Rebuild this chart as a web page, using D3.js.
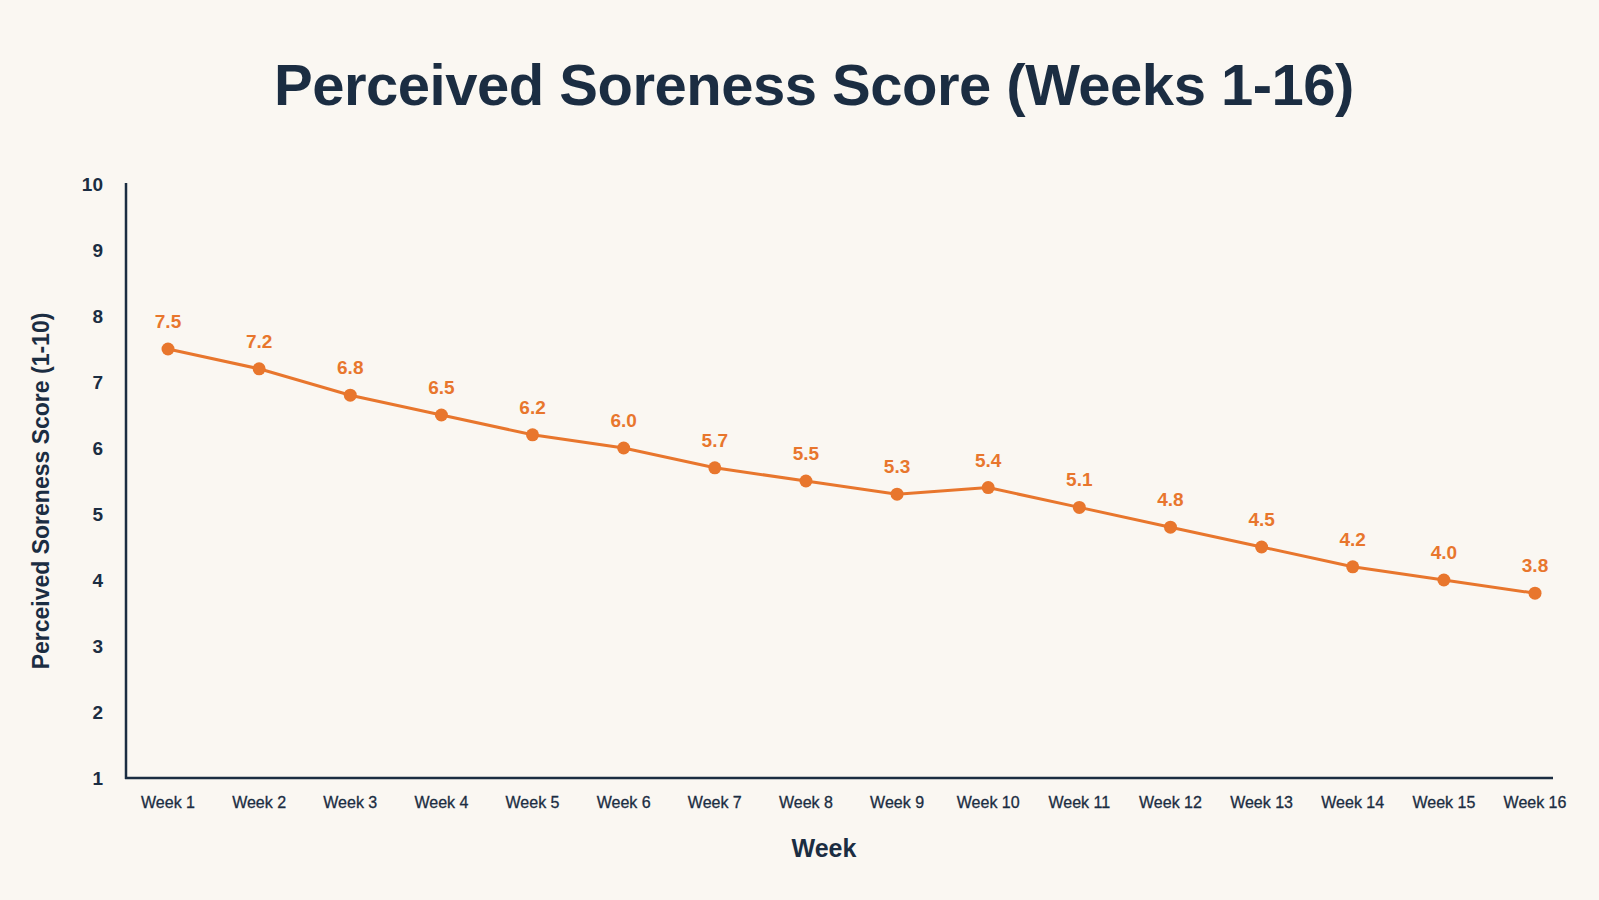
<!DOCTYPE html>
<html>
<head>
<meta charset="utf-8">
<script src="https://cdn.jsdelivr.net/npm/d3@7"></script>
<style>
  html, body { margin: 0; padding: 0; background: #faf7f2; }
  svg { display: block; }
</style>
</head>
<body>
<svg width="1599" height="900"></svg>
<script>
// chart data
var weeks = ["Week 1","Week 2","Week 3","Week 4","Week 5","Week 6","Week 7","Week 8",
             "Week 9","Week 10","Week 11","Week 12","Week 13","Week 14","Week 15","Week 16"];
var soreness = [7.5, 7.2, 6.8, 6.5, 6.2, 6.0, 5.7, 5.5, 5.3, 5.4, 5.1, 4.8, 4.5, 4.2, 4.0, 3.8];
var yTicks = [1, 2, 3, 4, 5, 6, 7, 8, 9, 10];

var svg = d3.select("svg"),
    ink = "#1b2d42",
    orange = "#e8762d",
    font = "'Liberation Sans', Arial, sans-serif";

var x = d3.scalePoint()
    .domain(weeks)
    .range([168, 1535]);
var y = d3.scaleLinear()
    .domain([1, 10])
    .range([778, 184]);

// title
svg.append("text")
    .attr("x", 814)
    .attr("y", 105)
    .attr("text-anchor", "middle")
    .attr("font-family", font)
    .attr("font-weight", "bold")
    .attr("font-size", 58)
    .attr("letter-spacing", -0.5)
    .attr("fill", ink)
    .text("Perceived Soreness Score (Weeks 1-16)");

// axes lines
svg.append("line")
    .attr("x1", 126).attr("x2", 126)
    .attr("y1", 183).attr("y2", 779)
    .attr("stroke", ink).attr("stroke-width", 2.5);
svg.append("line")
    .attr("x1", 125).attr("x2", 1553)
    .attr("y1", 778).attr("y2", 778)
    .attr("stroke", ink).attr("stroke-width", 2.5);

// y tick labels
svg.append("g")
    .selectAll("text")
    .data(yTicks)
    .enter().append("text")
      .attr("x", 103)
      .attr("y", function(d) { return y(d); })
      .attr("dy", "0.35em")
      .attr("text-anchor", "end")
      .attr("font-family", font)
      .attr("font-weight", "bold")
      .attr("font-size", 19)
      .attr("fill", ink)
      .text(function(d) { return d; });

// x tick labels
svg.append("g")
    .selectAll("text")
    .data(weeks)
    .enter().append("text")
      .attr("x", function(d) { return x(d); })
      .attr("y", 808)
      .attr("text-anchor", "middle")
      .attr("font-family", font)
      .attr("font-size", 16)
      .attr("fill", ink)
      .attr("stroke", ink).attr("stroke-width", 0.3)
      .text(function(d) { return d; });

// axis titles
svg.append("text")
    .attr("x", 824)
    .attr("y", 857)
    .attr("text-anchor", "middle")
    .attr("font-family", font)
    .attr("font-weight", "bold")
    .attr("font-size", 25)
    .attr("fill", ink)
    .text("Week");

svg.append("text")
    .attr("transform", "translate(49,491) rotate(-90)")
    .attr("text-anchor", "middle")
    .attr("font-family", font)
    .attr("font-weight", "bold")
    .attr("font-size", 23)
    .attr("fill", ink)
    .text("Perceived Soreness Score (1-10)");

// line + points
var line = d3.line()
    .x(function(d, i) { return x(weeks[i]); })
    .y(function(d) { return y(d); });

svg.append("path")
    .datum(soreness)
    .attr("d", line)
    .attr("fill", "none")
    .attr("stroke", orange)
    .attr("stroke-width", 3);

svg.append("g")
    .selectAll("circle")
    .data(soreness)
    .enter().append("circle")
      .attr("cx", function(d, i) { return x(weeks[i]); })
      .attr("cy", function(d) { return y(d); })
      .attr("r", 6.5)
      .attr("fill", orange);

svg.append("g")
    .selectAll("text")
    .data(soreness)
    .enter().append("text")
      .attr("x", function(d, i) { return x(weeks[i]); })
      .attr("y", function(d) { return y(d) - 21; })
      .attr("text-anchor", "middle")
      .attr("font-family", font)
      .attr("font-weight", "bold")
      .attr("font-size", 19)
      .attr("fill", orange)
      .text(function(d) { return d.toFixed(1); });
</script>
</body>
</html>
